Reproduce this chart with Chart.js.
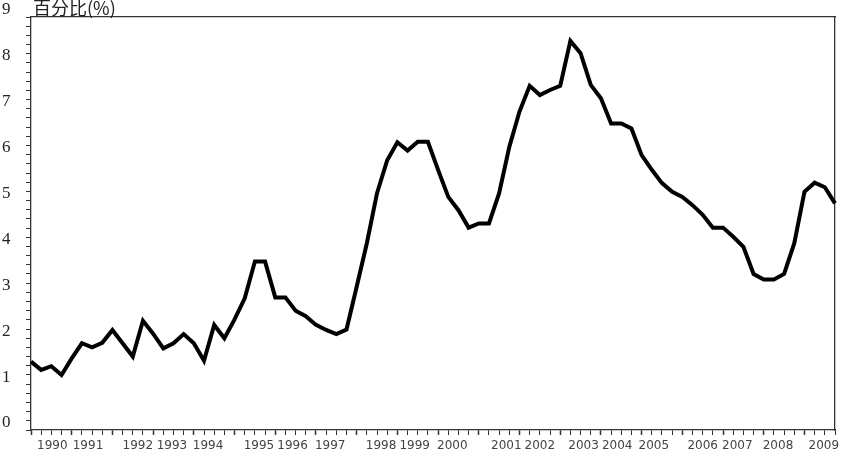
<!DOCTYPE html>
<html lang="zh">
<head>
  <meta charset="UTF-8" />
  <title>百分比</title>
  <script src="https://cdn.jsdelivr.net/npm/chart.js"></script>
  <style>
    html, body {
      margin: 0;
      padding: 0;
      background: #fff;
    }
    .wrap {
      width: 845px;
      height: 458px;
      position: relative;
    }
  </style>
</head>
<body>

<div class="wrap"><canvas id="chart"></canvas></div>

<script>
// year tick labels along the bottom
const years = ['1990', '1991', '1992', '1993', '1994', '1995', '1996', '1997', '1998', '1999',
               '2000', '2001', '2002', '2003', '2004', '2005', '2006', '2007', '2008', '2009'];
// where each year label sits, in quarters from 1990 Q1 (the labels are spaced unevenly)
const yearLabelPos = [2.1, 5.6, 10.5, 13.85, 17.4, 22.4, 25.7, 29.4, 34.4, 37.7,
                      41.4, 46.7, 50.0, 54.3, 57.6, 61.2, 66.0, 69.4, 73.4, 77.9];

// quarterly categories, 1990Q1 .. 2009Q4
const quarters = [];
years.forEach(y => ['Q1', 'Q2', 'Q3', 'Q4'].forEach(q => quarters.push(y + q)));

// percent values, one per quarter
const rates = [
  1.49, 1.31, 1.39, 1.20, 1.56, 1.89, 1.80, 1.90,
  2.18, 1.89, 1.60, 2.38, 2.10, 1.78, 1.89, 2.09,
  1.89, 1.51, 2.29, 2.00, 2.41, 2.87, 3.67, 3.67,
  2.89, 2.89, 2.60, 2.48, 2.29, 2.18, 2.09, 2.19,
  3.12, 4.07, 5.16, 5.88, 6.27, 6.09, 6.28, 6.28,
  5.67, 5.08, 4.79, 4.41, 4.50, 4.50, 5.16, 6.17,
  6.94, 7.50, 7.30, 7.41, 7.50, 8.48, 8.21, 7.52,
  7.23, 6.68, 6.68, 6.57, 5.99, 5.67, 5.38, 5.19,
  5.08, 4.90, 4.69, 4.41, 4.41, 4.21, 3.99, 3.40,
  3.28, 3.28, 3.40, 4.07, 5.19, 5.39, 5.29, 4.94
];

const yMin = 0, yMax = 9;
const axisColor = '#333';

// unit label drawn above the plot, top-left
const unitLabel = {
  id: 'unitLabel',
  afterDraw(chart) {
    const { ctx, chartArea } = chart;
    ctx.save();
    ctx.font = '18px "Noto Sans CJK SC", sans-serif';
    ctx.fillStyle = '#222';
    ctx.textAlign = 'left';
    ctx.textBaseline = 'alphabetic';
    ctx.fillText('百分比(%)', chartArea.left + 2, chartArea.top - 2);
    ctx.restore();
  }
};

new Chart(document.getElementById('chart'), {
  type: 'line',
  data: {
    labels: quarters,
    datasets: [{
      data: rates,
      borderColor: '#000',
      borderWidth: 4,
      pointRadius: 0,
      tension: 0,
      fill: false
    }]
  },
  options: {
    responsive: true,
    maintainAspectRatio: false,
    animation: false,
    layout: { padding: { left: 2, right: 10, top: 17, bottom: 0 } },
    plugins: {
      legend: { display: false },
      tooltip: { enabled: false }
    },
    scales: {
      x: {
        type: 'category',
        position: 'bottom',
        offset: false,
        grid: {
          drawOnChartArea: false,
          drawTicks: true,
          tickLength: 5,
          tickColor: axisColor,
          tickWidth: ctx => (ctx.index % 4 === 0 ? 1.5 : 1)
        },
        border: { display: true, color: axisColor, width: 1.3 },
        ticks: { display: false },
        afterFit: axis => { axis.height = 6; }
      },
      yr: {
        type: 'linear',
        position: 'bottom',
        min: 0,
        max: quarters.length - 1,
        grid: { display: false },
        border: { display: false },
        afterBuildTicks: axis => {
          axis.ticks = yearLabelPos.map(v => ({ value: v }));
        },
        ticks: {
          autoSkip: false,
          maxRotation: 0,
          padding: -5,
          color: '#444',
          font: { family: '"DejaVu Sans", sans-serif', size: 12 },
          callback: (value, index) => years[index]
        },
        afterFit: axis => { axis.height = 22; }
      },
      xTop: {
        type: 'linear',
        position: 'top',
        min: 0,
        max: 1,
        grid: { display: false },
        border: { display: true, color: axisColor, width: 1.3 },
        ticks: { display: false },
        afterFit: axis => { axis.height = 0; }
      },
      y: {
        type: 'linear',
        position: 'left',
        min: yMin,
        max: yMax,
        grid: {
          drawOnChartArea: false,
          drawTicks: true,
          tickLength: 5,
          tickColor: axisColor,
          tickWidth: 1
        },
        border: { display: true, color: axisColor, width: 1.3 },
        ticks: {
          stepSize: 0.2,
          autoSkip: false,
          crossAlign: 'far',
          labelOffset: -7,
          color: '#222',
          font: { family: '"Liberation Serif", serif', size: 17 },
          callback: v => (Math.abs(v - Math.round(v)) < 1e-6 ? String(Math.round(v)) : '')
        },
        afterFit: axis => { axis.width = 29; }
      },
      yRight: {
        type: 'linear',
        position: 'right',
        min: yMin,
        max: yMax,
        grid: { display: false },
        border: { display: true, color: axisColor, width: 1.3 },
        ticks: { display: false },
        afterFit: axis => { axis.width = 0; }
      }
    }
  },
  plugins: [unitLabel]
});
</script>

</body>
</html>
